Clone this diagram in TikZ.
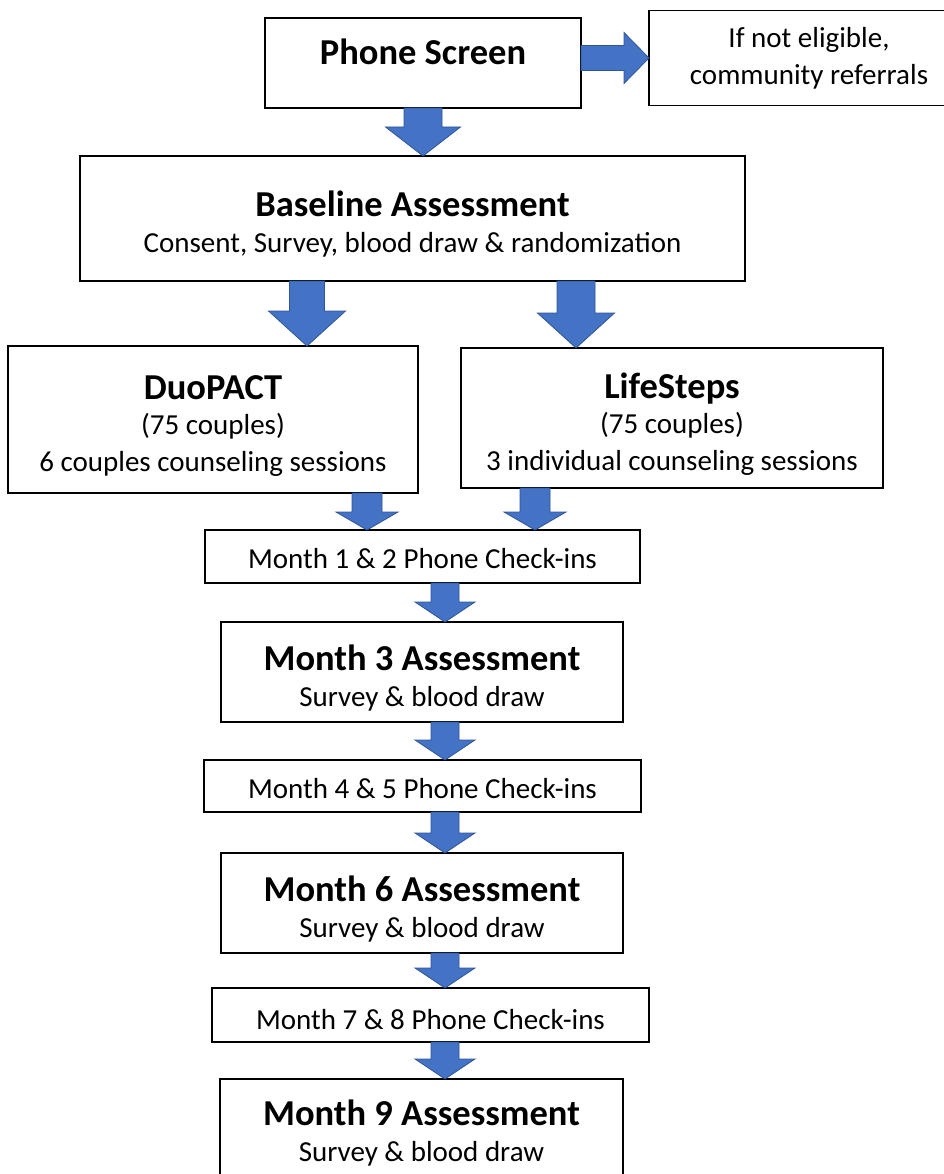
\documentclass[tikz,border=0pt]{standalone}
\usepackage{fontspec}
\setmainfont{Carlito}
\usepackage{tikz}
\usetikzlibrary{calc}

\definecolor{arrowblue}{HTML}{4472C4}
\definecolor{arrowedge}{HTML}{2F5597}

\tikzset{
    box/.style={draw, line width=1.6pt, align=center, inner sep=0pt, outer sep=0pt,
        font=\fontsize{29}{37}\selectfont},
    fatarrow/.style={fill=arrowblue, draw=arrowedge, line width=0.8pt, line join=miter}
}
\newcommand{\heading}[1]{{\fontsize{36.5}{40}\selectfont\bfseries\rule{0pt}{37pt}#1}}

% down arrow: start, end, half shaft, half head, head length
\newcommand{\downfat}[5]{%
    \draw[fatarrow] let \p1=(#1), \p2=(#2) in
        (\x1-#3,\y1) -- (\x1-#3,\y2+#5) -- (\x1-#4,\y2+#5) -- (\x1,\y2)
        -- (\x1+#4,\y2+#5) -- (\x1+#3,\y2+#5) -- (\x1+#3,\y1) -- cycle;}
% right arrow: start, end, half shaft, half head, head length
\newcommand{\rightfat}[5]{%
    \draw[fatarrow] let \p1=(#1), \p2=(#2) in
        (\x1,\y2-#3) -- (\x2-#5,\y2-#3) -- (\x2-#5,\y2-#4) -- (\x2,\y2)
        -- (\x2-#5,\y2+#4) -- (\x2-#5,\y2+#3) -- (\x1,\y2+#3) -- cycle;}

\begin{document}
\begin{tikzpicture}[x=1pt, y=-1pt]
        \useasboundingbox (0,0) rectangle (944,1174);

        % Boxes
        \node[box, minimum width=316pt, minimum height=90pt] (phone) at (423, 63) {\heading{Phone Screen}\rule[-33pt]{0pt}{0pt}};
        \node[box, minimum width=320pt, minimum height=95pt] (refer) at (809, 58) {If not eligible,\\community referrals};
        \node[box, minimum width=665pt, minimum height=125pt] (base) at (412.5, 218.5) {\heading{Baseline Assessment}\\[-1pt]Consent, Survey, blood draw \& randomization};
        \node[box, minimum width=410pt, minimum height=147pt] (duo) at (213, 419.5) {\heading{DuoPACT}\\[-2pt](75 couples)\\6 couples counseling sessions};
        \node[box, minimum width=422pt, minimum height=140pt] (life) at (672, 418) {\heading{LifeSteps}\\[-2pt](75 couples)\\3 individual counseling sessions};
        \node[box, minimum width=435pt, minimum height=53pt] (m12) at (422.5, 556.5) {\rule{0pt}{25pt}Month 1 \& 2 Phone Check-ins};
        \node[box, minimum width=402pt, minimum height=100pt] (m3) at (422, 672) {\heading{Month 3 Assessment}\\[-1pt]Survey \& blood draw};
        \node[box, minimum width=437pt, minimum height=52pt] (m45) at (422.5, 786) {\rule{0pt}{25pt}Month 4 \& 5 Phone Check-ins};
        \node[box, minimum width=402pt, minimum height=100pt] (m6) at (422, 903) {\heading{Month 6 Assessment}\\[-1pt]Survey \& blood draw};
        \node[box, minimum width=437pt, minimum height=54pt] (m78) at (430.5, 1015) {\rule{0pt}{29pt}Month 7 \& 8 Phone Check-ins};
        \node[box, minimum width=403pt, minimum height=110pt] (m9) at (421.5, 1134) {\heading{Month 9 Assessment}\\[-1pt]Survey \& blood draw\rule[-18pt]{0pt}{0pt}};

        \coordinate (axis) at (445, 0);

        % Arrows
        \rightfat{phone.east}{refer.west}{12.5pt}{25.5pt}{25pt}
        \downfat{phone.south}{base.north}{19pt}{37.5pt}{29pt}
        \downfat{base.south -| 307,0}{duo.north}{17.5pt}{38.5pt}{35pt}
        \downfat{base.south -| 576,0}{life.north}{19pt}{38.5pt}{35pt}
        \downfat{duo.south -| 367,0}{m12.north}{15pt}{31pt}{18pt}
        \downfat{life.south -| 535,0}{m12.north}{15pt}{31pt}{18pt}
        \downfat{m12.south -| axis}{m3.north}{14pt}{30pt}{20pt}
        \downfat{m3.south -| axis}{m45.north}{14pt}{30pt}{20pt}
        \downfat{m45.south -| axis}{m6.north}{14pt}{30pt}{20pt}
        \downfat{m6.south -| axis}{m78.north}{14pt}{30pt}{20pt}
        \downfat{m78.south -| axis}{m9.north}{14pt}{30pt}{20pt}
\end{tikzpicture}
\end{document}
